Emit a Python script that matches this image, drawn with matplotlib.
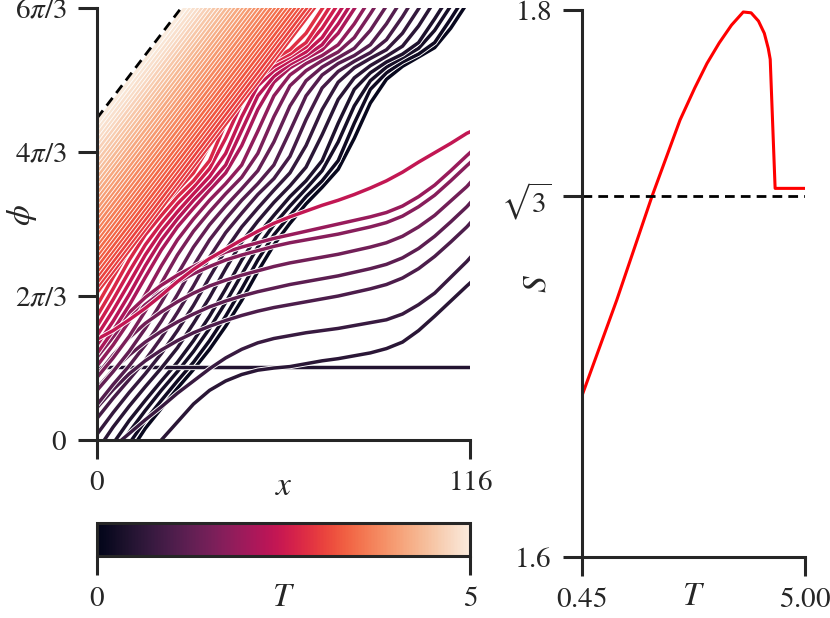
import numpy as np
import matplotlib
matplotlib.use("Agg")
import matplotlib.pyplot as plt
import matplotlib.patheffects as pe
import seaborn as sns
from matplotlib.cm import ScalarMappable
from matplotlib.colors import Normalize

# phases below are read in units of pi/3
x_grid = [0, 5, 10, 15, 20, 25, 30, 35, 40, 45, 50, 55, 60, 65, 70, 75, 80,
          85, 90, 95, 100, 105, 110, 115, 116]

# slow curves that end on the right edge
low_T = [0.55, 0.75, 1.0, 1.2, 1.45, 1.7, 1.9, 2.4]
low_phi = [
    [-1.0, -0.75, -0.5, -0.25, 0.0, 0.25, 0.5, 0.69, 0.82, 0.91, 0.97, 1.0, 1.02,
     1.06, 1.1, 1.13, 1.17, 1.21, 1.27, 1.36, 1.52, 1.72, 1.93, 2.14, 2.18],
    [-0.3, -0.1, 0.09, 0.28, 0.46, 0.65, 0.82, 0.99, 1.14, 1.26, 1.35, 1.41, 1.45,
     1.49, 1.52, 1.55, 1.59, 1.63, 1.67, 1.75, 1.88, 2.04, 2.26, 2.48, 2.53],
    [0.45, 0.7, 0.92, 1.1, 1.25, 1.38, 1.49, 1.58, 1.66, 1.73, 1.79, 1.84, 1.88,
     1.92, 1.96, 2.0, 2.05, 2.1, 2.16, 2.25, 2.38, 2.55, 2.75, 2.96, 3.01],
    [0.72, 0.97, 1.18, 1.36, 1.51, 1.64, 1.75, 1.85, 1.93, 2.0, 2.06, 2.11, 2.16,
     2.2, 2.24, 2.28, 2.33, 2.38, 2.44, 2.53, 2.66, 2.83, 3.03, 3.24, 3.29],
    [0.9, 1.18, 1.42, 1.62, 1.78, 1.92, 2.04, 2.14, 2.22, 2.29, 2.35, 2.41, 2.46,
     2.5, 2.54, 2.58, 2.63, 2.68, 2.74, 2.83, 2.96, 3.12, 3.32, 3.52, 3.57],
    [1.15, 1.43, 1.67, 1.88, 2.05, 2.19, 2.31, 2.41, 2.5, 2.57, 2.63, 2.69, 2.74,
     2.78, 2.82, 2.86, 2.91, 2.96, 3.02, 3.11, 3.24, 3.4, 3.6, 3.81, 3.85],
    [1.25, 1.53, 1.77, 1.98, 2.15, 2.29, 2.41, 2.52, 2.61, 2.68, 2.74, 2.8, 2.85,
     2.9, 2.95, 3.0, 3.05, 3.1, 3.16, 3.25, 3.38, 3.54, 3.74, 3.95, 3.99],
    [1.4, 1.52, 1.67, 1.83, 2.01, 2.2, 2.37, 2.52, 2.65, 2.78, 2.9, 3.01, 3.1,
     3.18, 3.26, 3.33, 3.41, 3.5, 3.6, 3.72, 3.86, 3.99, 4.12, 4.26, 4.28],
]

# the flat curve
flat_T = 0.45
flat_phi = 1.02

# steep curves leaving through the top
steep_T = [0.10, 0.20, 0.30, 0.40, 0.55, 0.70, 0.90, 1.10, 1.30, 1.55, 1.80, 2.10,
           2.25, 2.40, 2.55, 2.70, 2.82]
steep_phi = [
    [-0.83, -0.5, -0.18, 0.16, 0.44, 0.72, 0.98, 1.26, 1.58, 1.94, 2.34, 2.71, 3.01,
     3.28, 3.51, 3.76, 4.19, 4.68, 5.01, 5.19, 5.32, 5.45, 5.72, 6.06, 6.13],
    [-0.7, -0.37, -0.05, 0.27, 0.55, 0.82, 1.08, 1.38, 1.72, 2.1, 2.5, 2.85, 3.12,
     3.38, 3.6, 3.88, 4.4, 4.87, 5.1, 5.25, 5.36, 5.52, 5.85, 6.2, 6.27],
    [-0.54, -0.21, 0.11, 0.41, 0.69, 0.95, 1.23, 1.55, 1.91, 2.3, 2.68, 2.99, 3.25,
     3.49, 3.74, 4.14, 4.64, 4.99, 5.18, 5.31, 5.44, 5.69, 6.03, 6.38, 6.45],
    [-0.37, -0.05, 0.27, 0.55, 0.82, 1.08, 1.38, 1.72, 2.1, 2.5, 2.85, 3.12, 3.38,
     3.6, 3.88, 4.4, 4.87, 5.1, 5.25, 5.36, 5.52, 5.85, 6.2, 6.55, 6.62],
    [-0.15, 0.18, 0.47, 0.74, 1.0, 1.28, 1.62, 1.98, 2.38, 2.75, 3.04, 3.3, 3.53,
     3.79, 4.24, 4.73, 5.03, 5.2, 5.33, 5.47, 5.75, 6.1, 6.45, 6.8, 6.86],
    [0.08, 0.38, 0.66, 0.92, 1.2, 1.52, 1.87, 2.26, 2.64, 2.96, 3.22, 3.47, 3.71,
     4.09, 4.59, 4.97, 5.17, 5.3, 5.42, 5.65, 5.99, 6.34, 6.69, 7.0, 7.06],
    [0.3, 0.58, 0.84, 1.11, 1.42, 1.77, 2.14, 2.54, 2.88, 3.15, 3.41, 3.63, 3.94,
     4.45, 4.89, 5.12, 5.26, 5.38, 5.56, 5.88, 6.24, 6.59, 6.93, 7.23, 7.29],
    [0.49, 0.77, 1.03, 1.32, 1.65, 2.02, 2.42, 2.78, 3.07, 3.33, 3.56, 3.82, 4.29,
     4.78, 5.07, 5.23, 5.34, 5.49, 5.78, 6.13, 6.48, 6.84, 7.14, 7.44, 7.5],
    [0.69, 0.95, 1.23, 1.55, 1.91, 2.3, 2.68, 2.99, 3.25, 3.49, 3.74, 4.14, 4.64,
     4.99, 5.18, 5.31, 5.44, 5.69, 6.03, 6.38, 6.73, 7.05, 7.35, 7.65, 7.71],
    [0.87, 1.14, 1.44, 1.79, 2.18, 2.57, 2.9, 3.17, 3.42, 3.65, 3.98, 4.49, 4.92,
     5.13, 5.27, 5.39, 5.59, 5.92, 6.27, 6.62, 6.96, 7.26, 7.56, 7.86, 7.92],
    [1.03, 1.32, 1.65, 2.02, 2.42, 2.78, 3.07, 3.33, 3.56, 3.82, 4.29, 4.78, 5.07,
     5.23, 5.34, 5.49, 5.78, 6.13, 6.48, 6.84, 7.14, 7.44, 7.74, 8.04, 8.1],
    [1.2, 1.52, 1.87, 2.26, 2.64, 2.96, 3.22, 3.47, 3.71, 4.09, 4.59, 4.97, 5.17,
     5.3, 5.42, 5.65, 5.99, 6.34, 6.69, 7.0, 7.3, 7.6, 7.9, 8.2, 8.26],
    [1.32, 1.65, 2.02, 2.42, 2.78, 3.07, 3.33, 3.56, 3.82, 4.30, 4.78, 5.05, 5.22,
     5.34, 5.49, 5.78, 6.13, 6.48, 6.83, 7.1, 7.4, 7.7, 8.0, 8.3, 8.36],
    [1.45, 1.8, 2.18, 2.57, 2.9, 3.17, 3.42, 3.66, 3.98, 4.49, 4.92, 5.13, 5.27,
     5.39, 5.59, 5.92, 6.27, 6.62, 6.97, 7.25, 7.55, 7.85, 8.15, 8.45, 8.5],
    [1.58, 1.95, 2.34, 2.71, 3.01, 3.28, 3.51, 3.77, 4.19, 4.68, 5.01, 5.19, 5.32,
     5.46, 5.72, 6.06, 6.41, 6.76, 7.05, 7.35, 7.65, 7.95, 8.25, 8.55, 8.6],
    [1.72, 2.1, 2.5, 2.85, 3.12, 3.38, 3.6, 3.88, 4.4, 4.87, 5.1, 5.25, 5.36,
     5.52, 5.85, 6.2, 6.55, 6.9, 7.2, 7.5, 7.8, 8.1, 8.4, 8.7, 8.75],
    [1.87, 2.26, 2.64, 2.96, 3.22, 3.47, 3.71, 4.09, 4.59, 4.96, 5.16, 5.29, 5.42,
     5.65, 5.99, 6.34, 6.69, 7.0, 7.3, 7.6, 7.9, 8.2, 8.5, 8.8, 8.85],
]

# nearly straight high-T curves: starting phase, common slope
fan_T = [2.91, 2.97, 3.04, 3.10, 3.17, 3.23, 3.30, 3.36, 3.43, 3.49, 3.56,
         3.62, 3.69, 3.75, 3.82, 3.88, 3.95, 4.01, 4.08, 4.14, 4.21, 4.27,
         4.34, 4.40, 4.47, 4.53, 4.60, 4.66, 4.73, 4.79, 4.86, 4.92, 5.00]
fan_phi0 = [2.05, 2.12, 2.19, 2.27, 2.34, 2.41, 2.49, 2.56, 2.63, 2.71, 2.78,
            2.85, 2.93, 3.00, 3.08, 3.15, 3.22, 3.30, 3.37, 3.44, 3.52, 3.59,
            3.66, 3.74, 3.81, 3.88, 3.96, 4.03, 4.11, 4.18, 4.25, 4.33, 4.40]
fan_slope = 0.0585
bound_phi0 = 4.47

# right panel
T_S = [0.45, 1.16, 1.88, 2.45, 2.75, 3.0, 3.25, 3.5, 3.74, 3.9, 4.05, 4.17,
       4.25, 4.29, 4.39, 5.00]
S_vals = [1.659, 1.694, 1.732, 1.7598, 1.7715, 1.7805, 1.788, 1.7945, 1.7993,
          1.799, 1.796, 1.7915, 1.786, 1.782, 1.7348, 1.7348]

plt.rcParams["font.family"] = "STIXGeneral"
plt.rcParams["mathtext.fontset"] = "stix"
dark = "#262626"
plt.rcParams["text.color"] = dark
plt.rcParams["axes.labelcolor"] = dark
plt.rcParams["xtick.color"] = dark
plt.rcParams["ytick.color"] = dark

cmap = sns.color_palette("rocket", as_cmap=True)
norm = Normalize(0, 5)
p3 = np.pi / 3
lw = 2.5
edge = [pe.Stroke(linewidth=lw + 1.3, foreground="white"), pe.Normal()]
tick_fs = 21
lab_fs = 24


def style(ax):
    for s in ["top", "right"]:
        ax.spines[s].set_visible(False)
    for s in ["left", "bottom"]:
        ax.spines[s].set_linewidth(2.2)
        ax.spines[s].set_color(dark)
    ax.tick_params(direction="out", length=14, width=2.2, labelsize=tick_fs, pad=8)


fig = plt.figure(figsize=(8.3, 6.18), dpi=100)
ax1 = fig.add_axes([0.1169, 0.288, 0.4494, 0.699])
cax = fig.add_axes([0.1169, 0.1003, 0.4494, 0.0534])
ax2 = fig.add_axes([0.7012, 0.0987, 0.2687, 0.885])

# collect every curve and draw by increasing T
curves = []
for T, ph in zip(low_T, low_phi):
    curves.append((T, "pts", ph))
for T, ph in zip(steep_T, steep_phi):
    curves.append((T, "pts", ph))
curves.append((flat_T, "flat", flat_phi))
for T, p0 in zip(fan_T, fan_phi0):
    curves.append((T, "fan", p0))
curves.sort(key=lambda c: c[0])

xg = np.array(x_grid)
for T, kind, val in curves:
    c = cmap(norm(T))
    if kind == "pts":
        ax1.plot(xg, np.array(val) * p3, color=c, lw=lw, path_effects=edge,
                 solid_joinstyle="round")
    elif kind == "flat":
        ax1.axhline(val * p3, color=c, lw=lw, path_effects=edge)
    else:
        ax1.axline((0, val * p3), slope=fan_slope * p3, color=c, lw=lw,
                   path_effects=edge)

ax1.axline((0, bound_phi0 * p3), slope=fan_slope * p3, color="k", lw=2.0,
           ls="--", dashes=(3.5, 2.2))

ax1.set_xlim(0, 116)
ax1.set_ylim(0, 2 * np.pi)
ax1.set_xticks([0, 116])
ax1.set_xticklabels(["$0$", "$116$"])
ax1.set_yticks([0, 2 * p3, 4 * p3, 6 * p3])
ax1.set_yticklabels(["$0$", r"$2\pi/3$", r"$4\pi/3$", r"$6\pi/3$"])
style(ax1)
ax1.set_xlabel("$x$", fontsize=lab_fs, va="center")
ax1.xaxis.set_label_coords(0.5, -0.109)
ax1.set_ylabel("$\u03d5$", fontsize=lab_fs, va="center")
ax1.yaxis.set_label_coords(-0.2, 0.52)

# colorbar
cb = fig.colorbar(ScalarMappable(norm=norm, cmap=cmap), cax=cax,
                  orientation="horizontal")
cb.outline.set_linewidth(2.2)
cb.outline.set_edgecolor(dark)
cb.set_ticks([0, 5])
cb.set_ticklabels(["$0$", "$5$"])
cax.tick_params(direction="out", length=14, width=2.2, labelsize=tick_fs, pad=8)
cax.set_xlabel("$T$", fontsize=lab_fs, va="center")
cax.xaxis.set_label_coords(0.5, -1.27)

# right panel
ax2.plot(T_S, S_vals, color="red", lw=2.2)
ax2.axhline(np.sqrt(3), color="k", lw=2.0, ls="--", dashes=(3.5, 2.2))
ax2.set_xlim(0.45, 5.0)
ax2.set_ylim(1.6, 1.8)
ax2.set_xticks([0.45, 5.0])
ax2.set_xticklabels(["$0.45$", "$5.00$"])
ax2.set_yticks([1.6, np.sqrt(3), 1.8])
ax2.set_yticklabels(["$1.6$", r"$\sqrt{3}$", "$1.8$"])
style(ax2)
ax2.set_xlabel("$T$", fontsize=lab_fs, va="center")
ax2.xaxis.set_label_coords(0.5, -0.073)
ax2.set_ylabel("$S$", fontsize=lab_fs, va="center")
ax2.yaxis.set_label_coords(-0.197, 0.5)

fig.savefig("out.png", dpi=100)
